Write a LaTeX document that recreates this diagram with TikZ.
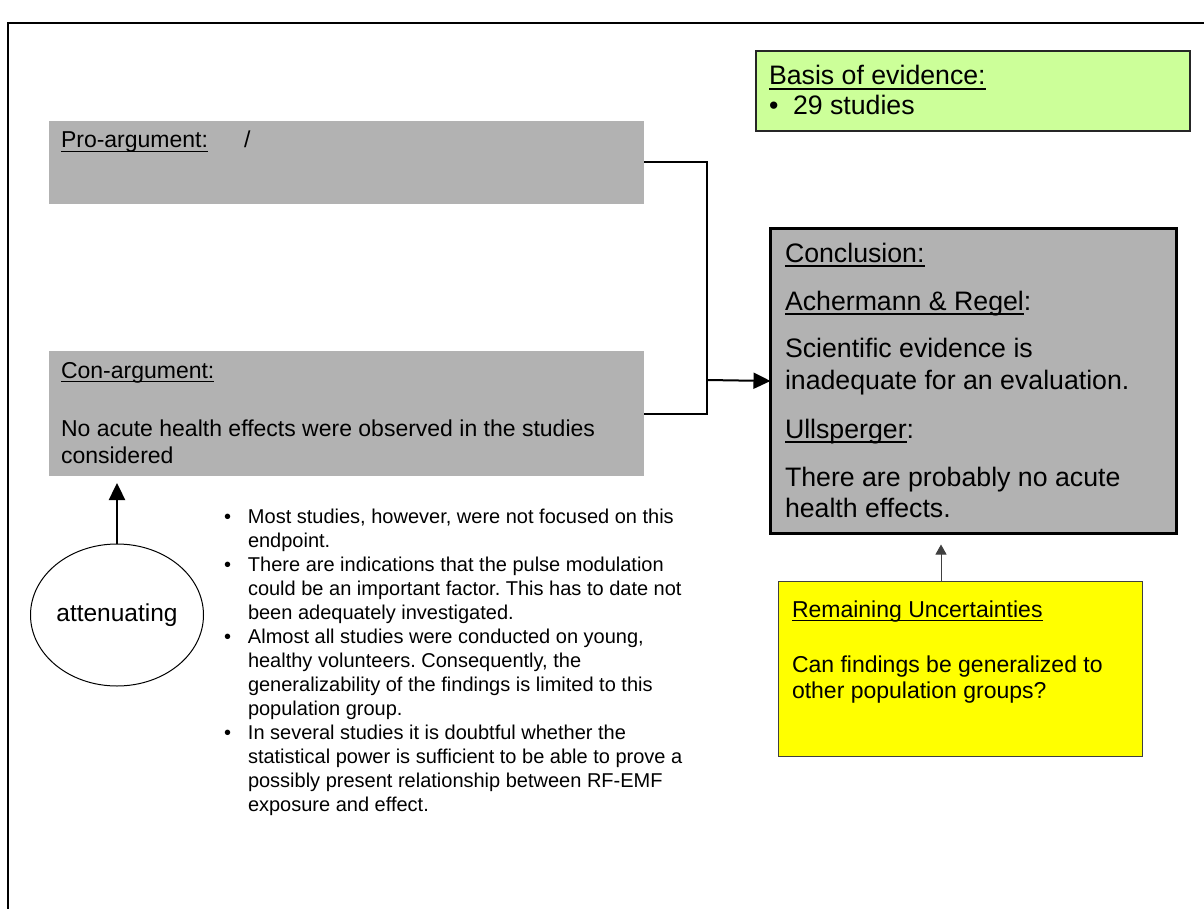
\documentclass[tikz,border=0pt]{standalone}
\usepackage{fontspec}
\setmainfont{Liberation Sans}
\usetikzlibrary{arrows.meta,shapes.geometric,calc}
\frenchspacing

\definecolor{boxgray}{RGB}{178,178,178}
\definecolor{evgreen}{RGB}{204,255,153}
\definecolor{uncyellow}{RGB}{255,255,0}
\definecolor{thinedge}{RGB}{64,64,64}

% underline with a fixed offset below the baseline
\newcommand\ulx[1]{\setbox0\hbox{#1}\rlap{\rule[-0.19em]{\wd0}{0.07em}}\box0}
% several lines whose first baseline is the box baseline
\newcommand\linesat[2]{\vtop{\hsize=700pt\parindent=0pt\raggedright\baselineskip=#1\relax\noindent #2\par}}
\newcommand\bul{\llap{\textbullet\hspace{17pt}}}

\tikzset{
  big/.style={font=\fontsize{26.7}{32}\selectfont},
  mid/.style={font=\fontsize{23}{26.5}\selectfont},
  small/.style={font=\fontsize{20}{24}\selectfont},
  txt/.style={anchor=base west, inner sep=0pt, outer sep=0pt},
  panel/.style={rectangle, anchor=north west, inner sep=0pt, outer sep=0pt},
  argbox/.style={panel, fill=boxgray},
  conn/.style={line width=2pt},
  tip/.style={-{Triangle[length=17pt,width=16pt]}},
}

\begin{document}
\begin{tikzpicture}[x=1pt, y=-1pt]
\useasboundingbox (0,0) rectangle (1204,909);

% page frame
\draw[line width=2pt] (8,909) -- (8,23) -- (1204,23);

% argument boxes
\node[argbox, minimum width=595pt, minimum height=83pt] (pro) at (49,121) {};
\node[argbox, minimum width=595pt, minimum height=125pt] (con) at (49,351) {};

% conclusion box
\node[panel, fill=boxgray, draw=black, line width=3pt,
      minimum width=406pt, minimum height=305pt] (conc) at (770.5,228.5) {};

% evidence box
\node[panel, fill=evgreen, draw=black!85, line width=1.8pt,
      minimum width=434pt, minimum height=80pt] (basis) at (756,51) {};

% uncertainties box
\node[panel, fill=uncyellow, draw=thinedge, line width=1pt,
      minimum width=364pt, minimum height=175pt] (unc) at (778,581) {};

% attenuating factor
\node[ellipse, draw=black, line width=1pt, inner sep=0pt,
      minimum width=173pt, minimum height=142pt,
      font=\fontsize{24.5}{28}\selectfont] (att) at (117,615) {attenuating};

% texts
\node[txt, mid] (protitle) at (61,148) {\ulx{Pro-argument:}};
\node[txt, mid] (proval) at (244,148) {/};

\node[txt, mid] (contitle) at (61,378) {\ulx{Con-argument:}};
\node[txt, mid] (conbody) at (61,436) {\linesat{27pt}{No acute health effects were observed in the studies\newline considered}};

\node[txt, big] (basistitle) at (769,85) {\ulx{Basis of evidence:}};
\node[txt, big] (basisdot) at (769,115) {\textbullet};
\node[txt, big] (basisval) at (793,115) {29 studies};

\node[txt, big] (conctitle) at (785,262) {\ulx{Conclusion:}};
\node[txt, big] (ar) at (785,310) {\ulx{Achermann \& Regel}:};
\node[txt, big] (arbody) at (785,357) {\linesat{32pt}{Scientific evidence is\newline inadequate for an evaluation.}};
\node[txt, big] (ull) at (785,438) {\ulx{Ullsperger}:};
\node[txt, big] (ullbody) at (785,486) {\linesat{31pt}{There are probably no acute\newline health effects.}};

\node[txt, mid] (unctitle) at (792,617) {\ulx{Remaining Uncertainties}};
\node[txt, mid] (uncbody) at (792,672) {\linesat{26pt}{Can findings be generalized to\newline other population groups?}};

\node[txt, small] (notes) at (248,523) {\linesat{24pt}{%
\bul Most studies, however, were not focused on this\newline
endpoint.\newline
\bul There are indications that the pulse modulation\newline
could be an important factor. This has to date not\newline
been adequately investigated.\newline
\bul Almost all studies were conducted on young,\newline
healthy volunteers. Consequently, the\newline
generalizability of the findings is limited to this\newline
population group.\newline
\bul In several studies it is doubtful whether the\newline
statistical power is sufficient to be able to prove a\newline
possibly present relationship between RF-EMF\newline
exposure and effect.}};

% connectors into the conclusion
\coordinate (join) at (707,380);
\draw[conn] (pro.east) -| (join);
\draw[conn] (con.east) -| (join);
\draw[conn, tip] (join) -- (conc.west);

% attenuating factor acts on the con-argument
\draw[line width=2.4pt, tip] (att.north) -- ($(att.north |- con.south)+(0,7)$);

% remaining uncertainties feed the conclusion
\coordinate (uncjoin) at ($(unc.north west)+(163,0)$);
\draw[thinedge, line width=1pt, -{Triangle[length=10pt,width=11pt]}]
  (uncjoin) -- ($(uncjoin |- conc.south)+(0,11)$);
\end{tikzpicture}
\end{document}
